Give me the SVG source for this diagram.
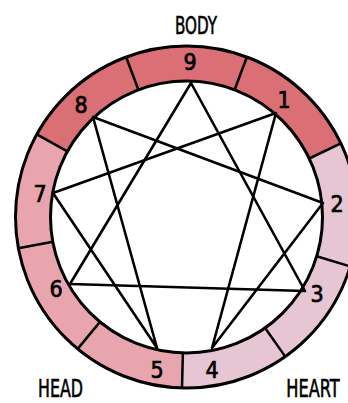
<svg xmlns="http://www.w3.org/2000/svg" width="348" height="403" viewBox="0 0 348 403">
<style>
.ring{stroke:none}
.body{fill:#da6f76}
.head{fill:#e8a5ae}
.heart{fill:#e6c6d3}
.edge{fill:none;stroke:#000;stroke-width:3}
.div{stroke:#000;stroke-width:2.5}
.star{fill:none;stroke:#000;stroke-width:2.6;stroke-linejoin:round;stroke-linecap:round}
.num{font-family:"DejaVu Sans Condensed","Liberation Sans Narrow","DejaVu Sans",sans-serif;font-size:23px;fill:#000;stroke:#000;stroke-width:0.7;text-anchor:middle}
.lbl{font-family:"DejaVu Sans Condensed","Liberation Sans Narrow","DejaVu Sans",sans-serif;font-size:24px;fill:#000;stroke:#000;stroke-width:0.6;text-anchor:middle}
</style>
<rect width="348" height="403" fill="#fff"/>
<g id="ring">
<path class="ring body" d="M36.8,134.4 A171,171 0 0 1 340.8,143.4 L309.3,158.5 A136,136 0 0 0 67.4,151.3 Z"/>
<path class="ring heart" d="M340.8,143.4 A171,171 0 0 1 182.0,387.9 L182.9,353.0 A136,136 0 0 0 309.3,158.5 Z"/>
<path class="ring head" d="M182.0,387.9 A171,171 0 0 1 36.8,134.4 L67.4,151.3 A136,136 0 0 0 182.9,353.0 Z"/>
<circle cx="186.5" cy="217" r="136" fill="#fff"/>
<circle class="edge" cx="186.5" cy="217" r="171"/>
<circle class="edge" cx="186.5" cy="217" r="136"/>
<line class="div" x1="126.1" y1="57.0" x2="138.4" y2="89.8"/>
<line class="div" x1="246.9" y1="57.0" x2="234.6" y2="89.8"/>
<line class="div" x1="340.8" y1="143.4" x2="309.3" y2="158.5"/>
<line class="div" x1="350.2" y1="266.4" x2="316.7" y2="256.3"/>
<line class="div" x1="285.3" y1="356.6" x2="265.1" y2="328.0"/>
<line class="div" x1="182.0" y1="387.9" x2="182.9" y2="353.0"/>
<line class="div" x1="77.7" y1="348.9" x2="100.0" y2="321.9"/>
<line class="div" x1="18.4" y1="248.2" x2="52.8" y2="241.8"/>
<line class="div" x1="36.8" y1="134.4" x2="67.4" y2="151.3"/>
</g>
<g id="connectors">
<polygon class="star" points="191,83 305,291 70,284"/>
<polygon class="star" points="276,113 212,348 323,203 93,117 157,348 53,193"/>
</g>
<g id="node-9"><text class="num" x="190" y="70">9</text></g>
<g id="node-1"><text class="num" x="284" y="108">1</text></g>
<g id="node-2"><text class="num" x="337" y="212">2</text></g>
<g id="node-3"><text class="num" x="317" y="302">3</text></g>
<g id="node-4"><text class="num" x="212" y="378">4</text></g>
<g id="node-5"><text class="num" x="157" y="378">5</text></g>
<g id="node-6"><text class="num" x="56" y="297">6</text></g>
<g id="node-7"><text class="num" x="40" y="202">7</text></g>
<g id="node-8"><text class="num" x="81" y="113">8</text></g>
<g id="label-body"><text class="lbl" x="196" y="34" textLength="42" lengthAdjust="spacingAndGlyphs">BODY</text></g>
<g id="label-head"><text class="lbl" x="60.5" y="397" textLength="45" lengthAdjust="spacingAndGlyphs">HEAD</text></g>
<g id="label-heart"><text class="lbl" transform="translate(313,397) scale(0.72,1)" x="0" y="0" textLength="74" lengthAdjust="spacingAndGlyphs">HEART</text></g>
</svg>
